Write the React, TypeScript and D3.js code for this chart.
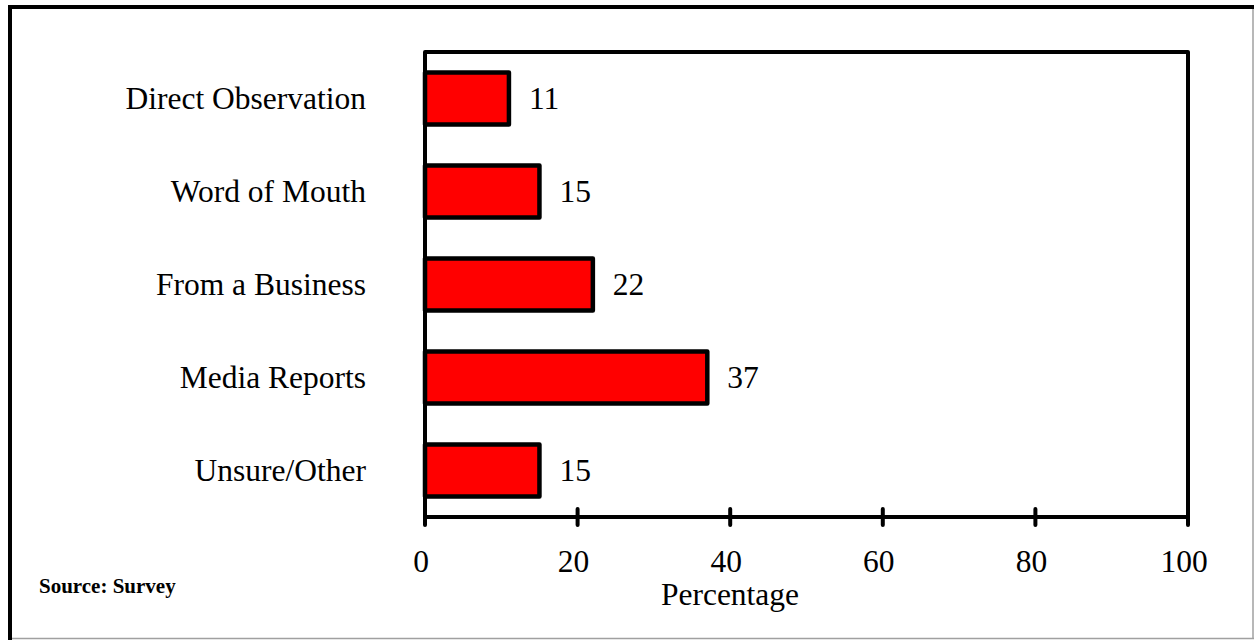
import React from "react";
import * as d3 from "d3";

const categories = ["Direct Observation", "Word of Mouth", "From a Business", "Media Reports", "Unsure/Other"];
const values = [11, 15, 22, 37, 15];
const ticks = [0, 20, 40, 60, 80, 100];
const xTitle = "Percentage";
const sourceNote = "Source: Survey";

const W = 1254;
const H = 640;
const plot = { left: 425, right: 1188, top: 52, bottom: 517 };
const FONT = "'Liberation Serif', 'Times New Roman', serif";
const FS = 31.5;

export default function App() {
  const x = d3.scaleLinear().domain([0, 100]).range([plot.left, plot.right]);
  const y = d3
    .scaleBand<string>()
    .domain(categories)
    .range([plot.top, plot.bottom])
    .paddingInner(0.44)
    .paddingOuter(0.22);

  return (
    <svg
      width={W}
      height={H}
      style={{ position: "absolute", left: 0, top: 0, background: "#fff" }}
      fontFamily={FONT}
    >
      {/* outer frame: heavy top/left, light right/bottom */}
      <line x1={1253} y1={7} x2={1253} y2={639} stroke="#a0a0a0" strokeWidth={1.5} />
      <line x1={10} y1={638.5} x2={1254} y2={638.5} stroke="#a0a0a0" strokeWidth={1.5} />
      <line x1={8} y1={7} x2={1254} y2={7} stroke="#000" strokeWidth={4} />
      <line x1={10} y1={5} x2={10} y2={640} stroke="#000" strokeWidth={4} />

      {/* bars */}
      {categories.map((c, i) => (
        <rect
          key={c}
          x={x(0)}
          y={y(c)}
          width={x(values[i]) - x(0)}
          height={y.bandwidth()}
          fill="#ff0000"
          stroke="#000"
          strokeWidth={4.5}
          strokeLinejoin="round"
        />
      ))}

      {/* plot frame */}
      <path
        d={`M${plot.left},${plot.bottom} V${plot.top} H${plot.right} V${plot.bottom} Z`}
        fill="none"
        stroke="#000"
        strokeWidth={4}
        strokeLinejoin="round"
      />

      {/* x ticks */}
      {ticks.map((t) => {
        const edge = t === ticks[0] || t === ticks[ticks.length - 1];
        return (
          <line
            key={t}
            x1={x(t)}
            x2={x(t)}
            y1={edge ? plot.bottom : plot.bottom - 8}
            y2={plot.bottom + 8}
            stroke="#000"
            strokeWidth={4}
            strokeLinecap="round"
          />
        );
      })}
      {ticks.map((t) => (
        <text key={"l" + t} x={x(t) - 4} y={572} textAnchor="middle" fontSize={FS}>
          {t}
        </text>
      ))}

      {/* category labels */}
      {categories.map((c) => (
        <text
          key={"c" + c}
          x={366}
          y={(y(c) as number) + y.bandwidth() / 2 + 10}
          textAnchor="end"
          fontSize={FS}
        >
          {c}
        </text>
      ))}

      {/* value labels */}
      {categories.map((c, i) => (
        <text
          key={"v" + c}
          x={x(values[i]) + 20}
          y={(y(c) as number) + y.bandwidth() / 2 + 10}
          fontSize={FS}
        >
          {values[i]}
        </text>
      ))}

      <text x={730} y={605} textAnchor="middle" fontSize={FS}>
        {xTitle}
      </text>
      <text x={39} y={593} fontSize={21} fontWeight="bold">
        {sourceNote}
      </text>
    </svg>
  );
}
